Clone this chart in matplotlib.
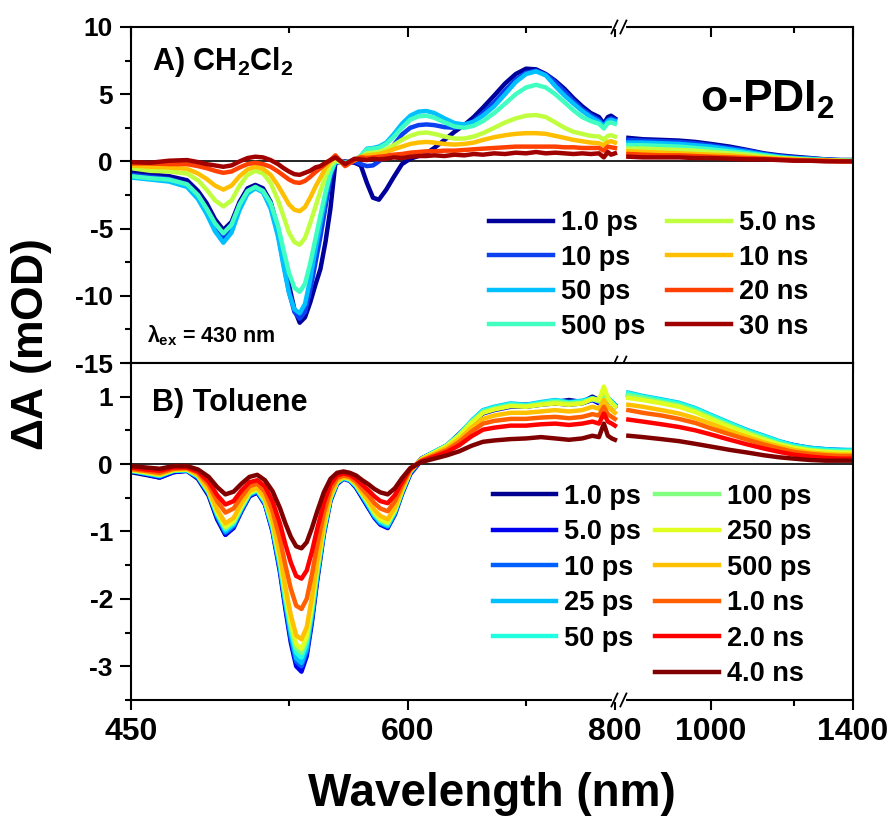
import numpy as np
import matplotlib.pyplot as plt
from matplotlib.lines import Line2D
from matplotlib.ticker import FixedLocator, MultipleLocator

plt.rcParams['font.family'] = ['Liberation Sans', 'DejaVu Sans']
plt.rcParams['font.weight'] = 'bold'
plt.rcParams['mathtext.fontset'] = 'custom'
plt.rcParams['mathtext.rm'] = 'Liberation Sans:bold'
plt.rcParams['mathtext.it'] = 'Liberation Sans:bold'
plt.rcParams['mathtext.bf'] = 'Liberation Sans:bold'
plt.rcParams['axes.unicode_minus'] = False

# ---- A) CH2Cl2 ----
wl_a = [450, 458, 466, 474, 479, 483, 487, 491, 495, 499, 503, 507, 511, 515, 519, 522, 525, 528, 531, 534,
        537, 540, 543, 546, 549, 552, 558, 564, 568, 572, 576, 580, 585, 590, 596, 602, 608, 614, 620, 628,
        636, 644, 652, 660, 670, 680, 690, 700, 710, 720, 730, 740, 750, 760, 770, 780, 786, 791, 795, 800]
wl_b = [858, 880, 910, 940, 970, 1000, 1040, 1080, 1120, 1160, 1200, 1250, 1300, 1350, 1400]

dcm_labels = ['1.0 ps', '10 ps', '50 ps', '500 ps', '5.0 ns', '10 ns', '20 ns', '30 ns']
dcm_colors = ['#00009a', '#0a40f0', '#00c0ff', '#40ffc0', '#c0ff40', '#ffbf00', '#ff4000', '#a00000']

dcm_vis = [
    [-0.8, -0.95, -1.1, -1.4, -2.2, -3.1, -4.3, -5.1, -4.5, -3.0, -2.0, -1.75, -2.0, -3.0, -5.0, -7.0, -9.2, -11.0, -12.0, -11.6,
     -10.5, -9.2, -8.0, -6.0, -3.5, -0.1, 0.0, -0.1, -0.3, -1.6, -2.7, -2.85, -2.1, -1.2, -0.2, 0.2, 0.4, 0.6, 1.0, 1.6,
     2.2, 2.7, 3.3, 4.0, 4.9, 5.8, 6.5, 6.9, 6.85, 6.5, 6.0, 5.4, 4.7, 4.1, 3.6, 3.3, 2.8, 3.3, 3.4, 3.2],
    [-1.0, -1.15, -1.3, -1.7, -2.6, -3.6, -4.9, -5.7, -5.0, -3.4, -2.3, -1.9, -2.2, -3.3, -5.4, -7.6, -9.7, -11.2, -11.7, -11.2,
     -9.6, -7.6, -5.6, -3.4, -1.2, 0.0, -0.1, 0.0, -0.2, -0.35, -0.3, 0.0, 0.5, 1.2, 2.0, 2.5, 2.7, 2.75, 2.7, 2.55,
     2.5, 2.6, 3.0, 3.6, 4.4, 5.3, 6.1, 6.6, 6.75, 6.45, 5.9, 5.2, 4.5, 3.9, 3.45, 3.1, 2.7, 3.1, 3.2, 3.1],
    [-1.2, -1.35, -1.5, -1.9, -2.8, -3.9, -5.2, -6.05, -5.3, -3.6, -2.4, -2.0, -2.3, -3.5, -5.6, -7.8, -9.8, -11.0, -11.3, -10.6,
     -8.8, -6.6, -4.6, -2.6, -0.9, 0.0, -0.1, 0.1, 0.4, 0.95, 1.0, 1.1, 1.4, 2.0, 2.8, 3.4, 3.7, 3.75, 3.6, 3.2,
     2.85, 2.75, 2.95, 3.4, 4.1, 5.0, 5.9, 6.5, 6.7, 6.4, 5.6, 4.9, 4.3, 3.75, 3.3, 2.95, 2.6, 3.0, 3.1, 3.0],
    [-1.1, -1.25, -1.35, -1.7, -2.5, -3.5, -4.6, -5.35, -4.7, -3.2, -2.2, -1.9, -2.2, -3.1, -4.8, -6.6, -8.3, -9.4, -9.7, -9.1,
     -7.6, -5.8, -4.0, -2.3, -0.8, 0.0, -0.1, 0.1, 0.4, 0.9, 0.95, 1.0, 1.3, 1.8, 2.5, 3.1, 3.35, 3.4, 3.25, 2.9,
     2.6, 2.5, 2.65, 3.0, 3.6, 4.3, 5.0, 5.5, 5.7, 5.5, 5.0, 4.4, 3.8, 3.3, 3.0, 2.8, 2.45, 2.85, 2.9, 2.8],
    [-0.5, -0.7, -0.75, -0.9, -1.4, -2.1, -2.9, -3.35, -2.9, -1.8, -1.0, -0.7, -0.9, -1.6, -2.9, -4.1, -5.3, -6.0, -6.2, -5.7,
     -4.6, -3.4, -2.2, -1.1, -0.3, 0.1, -0.2, 0.1, 0.3, 0.6, 0.65, 0.7, 0.9, 1.2, 1.6, 1.9, 2.1, 2.15, 2.05, 1.85,
     1.7, 1.7, 1.85, 2.1, 2.5, 2.9, 3.2, 3.4, 3.45, 3.3, 2.9, 2.5, 2.2, 2.05, 1.9, 1.85, 1.6, 1.9, 1.95, 1.85],
    [-0.3, -0.4, -0.45, -0.55, -0.9, -1.3, -1.8, -2.1, -1.8, -1.1, -0.6, -0.4, -0.55, -1.0, -1.8, -2.5, -3.2, -3.6, -3.7, -3.4,
     -2.7, -1.9, -1.2, -0.5, 0.0, 0.3, -0.3, 0.1, 0.35, 0.45, 0.5, 0.55, 0.7, 0.9, 1.1, 1.3, 1.4, 1.45, 1.4, 1.3,
     1.25, 1.3, 1.4, 1.6, 1.8, 1.95, 2.05, 2.1, 2.1, 2.05, 1.9, 1.75, 1.6, 1.5, 1.4, 1.35, 1.2, 1.45, 1.5, 1.4],
    [-0.15, -0.15, -0.2, -0.2, -0.35, -0.5, -0.7, -0.85, -0.75, -0.45, -0.2, -0.1, -0.2, -0.4, -0.75, -1.05, -1.35, -1.55, -1.6, -1.45,
     -1.15, -0.8, -0.5, -0.2, 0.1, 0.45, -0.35, 0.1, 0.3, 0.25, 0.3, 0.35, 0.4, 0.5, 0.55, 0.65, 0.7, 0.75, 0.75, 0.8,
     0.8, 0.85, 0.9, 0.95, 1.0, 1.05, 1.1, 1.1, 1.1, 1.1, 1.1, 1.05, 1.05, 1.0, 1.0, 1.0, 0.8, 1.1, 1.05, 1.0],
    [-0.05, -0.1, 0.05, 0.1, -0.05, -0.2, -0.3, -0.4, -0.3, 0.0, 0.25, 0.35, 0.3, 0.1, -0.2, -0.5, -0.75, -0.95, -1.0, -0.85,
     -0.7, -0.45, -0.35, -0.1, 0.1, 0.3, -0.2, 0.2, 0.15, 0.1, 0.2, 0.15, 0.2, 0.3, 0.25, 0.35, 0.4, 0.4, 0.45, 0.4,
     0.5, 0.45, 0.55, 0.5, 0.6, 0.55, 0.65, 0.6, 0.7, 0.6, 0.65, 0.6, 0.55, 0.6, 0.55, 0.6, 0.3, 0.7, 0.5, 0.6],
]
dcm_nir = [
    [1.75, 1.65, 1.6, 1.55, 1.45, 1.3, 1.1, 0.85, 0.6, 0.45, 0.35, 0.25, 0.15, 0.1, 0.1],
    [1.6, 1.55, 1.5, 1.45, 1.35, 1.2, 1.0, 0.8, 0.55, 0.4, 0.3, 0.2, 0.15, 0.1, 0.1],
    [1.4, 1.4, 1.35, 1.3, 1.2, 1.1, 0.9, 0.7, 0.5, 0.35, 0.25, 0.2, 0.1, 0.1, 0.05],
    [1.2, 1.2, 1.15, 1.1, 1.0, 0.9, 0.75, 0.6, 0.45, 0.3, 0.2, 0.15, 0.1, 0.05, 0.05],
    [0.95, 0.95, 0.9, 0.85, 0.8, 0.7, 0.6, 0.5, 0.35, 0.25, 0.2, 0.1, 0.1, 0.05, 0.05],
    [0.75, 0.7, 0.65, 0.6, 0.55, 0.5, 0.45, 0.35, 0.25, 0.2, 0.15, 0.1, 0.05, 0.05, 0.0],
    [0.55, 0.5, 0.45, 0.45, 0.4, 0.35, 0.3, 0.25, 0.2, 0.15, 0.1, 0.05, 0.05, 0.0, 0.0],
    [0.35, 0.3, 0.3, 0.3, 0.25, 0.25, 0.2, 0.15, 0.15, 0.1, 0.05, 0.05, 0.0, 0.0, 0.0],
]

# ---- B) Toluene ----
wl_c = [450, 456, 462, 468, 474, 479, 484, 488, 492, 496, 500, 504, 508, 512, 516, 520, 523, 526, 529, 532,
        535, 538, 541, 545, 549, 553, 557, 561, 565, 569, 573, 577, 581, 586, 591, 596, 602, 610, 620, 630,
        640, 650, 660, 670, 685, 700, 715, 730, 745, 760, 772, 780, 786, 791, 796, 800]
wl_d = [858, 880, 910, 940, 970, 1000, 1040, 1080, 1120, 1160, 1200, 1250, 1300, 1350, 1400]

tol_labels = ['1.0 ps', '5.0 ps', '10 ps', '25 ps', '50 ps', '100 ps', '250 ps', '500 ps', '1.0 ns', '2.0 ns', '4.0 ns']
tol_colors = ['#000090', '#0000f0', '#0060ff', '#00c0ff', '#20ffe0', '#80ff80', '#e0ff20', '#ffc000',
              '#ff6000', '#ff0000', '#800000']

tol_vis = [
    [-0.12, -0.16, -0.2, -0.12, -0.1, -0.22, -0.47, -0.82, -1.05, -0.93, -0.68, -0.47, -0.42, -0.58, -0.98, -1.55, -2.1, -2.6, -2.95, -3.0,
     -2.8, -2.3, -1.7, -1.0, -0.52, -0.28, -0.2, -0.24, -0.35, -0.5, -0.65, -0.78, -0.88, -0.93, -0.72, -0.42, -0.12, 0.08, 0.18, 0.28,
     0.45, 0.62, 0.78, 0.82, 0.88, 0.88, 0.9, 0.92, 0.95, 0.92, 1.0, 0.95, 1.05, 0.95, 0.92, 0.88],
    [-0.1, -0.15, -0.2, -0.12, -0.1, -0.2, -0.45, -0.8, -1.05, -0.95, -0.7, -0.48, -0.42, -0.6, -1.0, -1.6, -2.15, -2.65, -3.0, -3.08,
     -2.85, -2.35, -1.75, -1.05, -0.55, -0.3, -0.22, -0.25, -0.35, -0.5, -0.65, -0.8, -0.9, -0.95, -0.75, -0.45, -0.15, 0.05, 0.15, 0.25,
     0.4, 0.6, 0.75, 0.8, 0.85, 0.85, 0.88, 0.9, 0.88, 0.9, 0.95, 0.9, 1.0, 0.95, 0.9, 0.85],
    [-0.1, -0.14, -0.18, -0.1, -0.1, -0.2, -0.44, -0.78, -1.02, -0.92, -0.68, -0.46, -0.4, -0.58, -0.97, -1.55, -2.08, -2.58, -2.93, -3.0,
     -2.78, -2.28, -1.7, -1.02, -0.53, -0.28, -0.21, -0.24, -0.34, -0.48, -0.63, -0.78, -0.88, -0.93, -0.73, -0.43, -0.13, 0.06, 0.16, 0.27,
     0.42, 0.62, 0.78, 0.83, 0.88, 0.87, 0.9, 0.93, 0.9, 0.92, 0.97, 0.93, 1.02, 0.97, 0.92, 0.87],
    [-0.1, -0.14, -0.18, -0.1, -0.09, -0.19, -0.43, -0.76, -1.0, -0.9, -0.66, -0.45, -0.4, -0.57, -0.95, -1.52, -2.05, -2.53, -2.88, -2.95,
     -2.73, -2.24, -1.67, -1.0, -0.52, -0.28, -0.21, -0.24, -0.33, -0.47, -0.62, -0.77, -0.87, -0.92, -0.72, -0.42, -0.12, 0.07, 0.18, 0.28,
     0.44, 0.64, 0.8, 0.85, 0.9, 0.88, 0.92, 0.95, 0.92, 0.94, 0.98, 0.95, 1.03, 0.98, 0.93, 0.88],
    [-0.1, -0.13, -0.17, -0.1, -0.09, -0.18, -0.42, -0.74, -0.97, -0.88, -0.65, -0.44, -0.39, -0.56, -0.93, -1.48, -2.0, -2.46, -2.8, -2.87,
     -2.66, -2.18, -1.62, -0.97, -0.5, -0.27, -0.2, -0.23, -0.32, -0.46, -0.6, -0.75, -0.85, -0.9, -0.7, -0.41, -0.11, 0.07, 0.18, 0.28,
     0.44, 0.63, 0.79, 0.84, 0.89, 0.87, 0.91, 0.94, 0.91, 0.93, 0.97, 0.94, 1.02, 0.97, 0.92, 0.87],
    [-0.09, -0.13, -0.16, -0.09, -0.08, -0.17, -0.41, -0.72, -0.95, -0.86, -0.63, -0.43, -0.38, -0.54, -0.9, -1.44, -1.95, -2.4, -2.73, -2.8,
     -2.6, -2.13, -1.58, -0.95, -0.49, -0.26, -0.2, -0.22, -0.31, -0.45, -0.58, -0.73, -0.83, -0.88, -0.69, -0.4, -0.11, 0.07, 0.17, 0.27,
     0.43, 0.62, 0.77, 0.82, 0.87, 0.86, 0.89, 0.92, 0.9, 0.91, 0.96, 0.93, 1.05, 0.96, 0.9, 0.86],
    [-0.09, -0.12, -0.16, -0.09, -0.08, -0.17, -0.4, -0.71, -0.93, -0.84, -0.62, -0.42, -0.37, -0.53, -0.88, -1.41, -1.91, -2.35, -2.67, -2.74,
     -2.55, -2.09, -1.55, -0.93, -0.48, -0.26, -0.19, -0.22, -0.3, -0.44, -0.57, -0.72, -0.82, -0.87, -0.68, -0.39, -0.1, 0.07, 0.17, 0.27,
     0.42, 0.61, 0.76, 0.81, 0.86, 0.85, 0.88, 0.9, 0.88, 0.9, 0.97, 0.95, 1.15, 0.98, 0.9, 0.85],
    [-0.08, -0.11, -0.15, -0.08, -0.07, -0.16, -0.38, -0.67, -0.88, -0.8, -0.58, -0.4, -0.35, -0.5, -0.83, -1.34, -1.82, -2.24, -2.54, -2.6,
     -2.42, -1.98, -1.47, -0.88, -0.46, -0.25, -0.19, -0.21, -0.29, -0.42, -0.54, -0.68, -0.77, -0.82, -0.64, -0.37, -0.1, 0.06, 0.15, 0.24,
     0.37, 0.54, 0.67, 0.72, 0.76, 0.76, 0.78, 0.8, 0.78, 0.8, 0.85, 0.82, 0.95, 0.85, 0.8, 0.76],
    [-0.07, -0.1, -0.13, -0.07, -0.06, -0.13, -0.31, -0.55, -0.72, -0.66, -0.48, -0.33, -0.29, -0.41, -0.69, -1.11, -1.5, -1.85, -2.1, -2.15,
     -2.0, -1.64, -1.22, -0.73, -0.38, -0.21, -0.17, -0.19, -0.26, -0.37, -0.47, -0.58, -0.66, -0.7, -0.55, -0.32, -0.08, 0.05, 0.13, 0.21,
     0.33, 0.48, 0.6, 0.64, 0.67, 0.67, 0.69, 0.7, 0.68, 0.7, 0.74, 0.72, 0.85, 0.74, 0.7, 0.67],
    [-0.05, -0.08, -0.1, -0.05, -0.05, -0.11, -0.26, -0.46, -0.6, -0.55, -0.39, -0.27, -0.24, -0.33, -0.55, -0.88, -1.19, -1.46, -1.66, -1.7,
     -1.58, -1.3, -0.97, -0.58, -0.3, -0.17, -0.14, -0.16, -0.22, -0.31, -0.39, -0.48, -0.55, -0.58, -0.46, -0.27, -0.07, 0.04, 0.11, 0.18,
     0.28, 0.41, 0.51, 0.54, 0.57, 0.57, 0.59, 0.6, 0.58, 0.6, 0.63, 0.6, 0.75, 0.63, 0.6, 0.57],
    [-0.03, -0.05, -0.07, -0.03, -0.03, -0.08, -0.19, -0.34, -0.45, -0.41, -0.29, -0.19, -0.16, -0.24, -0.4, -0.65, -0.88, -1.08, -1.22, -1.25,
     -1.16, -0.95, -0.71, -0.42, -0.22, -0.13, -0.11, -0.13, -0.17, -0.24, -0.3, -0.37, -0.42, -0.45, -0.36, -0.21, -0.06, 0.03, 0.08, 0.13,
     0.19, 0.27, 0.33, 0.35, 0.37, 0.38, 0.4, 0.38, 0.36, 0.38, 0.42, 0.4, 0.6, 0.42, 0.38, 0.36],
]
tol_nir = [
    [1.02, 0.98, 0.93, 0.88, 0.8, 0.7, 0.58, 0.48, 0.4, 0.32, 0.27, 0.23, 0.21, 0.2, 0.2],
    [1.03, 0.99, 0.94, 0.89, 0.81, 0.71, 0.59, 0.49, 0.41, 0.33, 0.28, 0.23, 0.21, 0.2, 0.2],
    [1.04, 1.0, 0.95, 0.9, 0.82, 0.72, 0.6, 0.5, 0.41, 0.33, 0.28, 0.24, 0.22, 0.21, 0.2],
    [1.06, 1.01, 0.96, 0.91, 0.83, 0.73, 0.61, 0.5, 0.42, 0.34, 0.28, 0.24, 0.22, 0.21, 0.21],
    [1.05, 1.0, 0.95, 0.9, 0.82, 0.72, 0.6, 0.49, 0.41, 0.33, 0.27, 0.23, 0.21, 0.2, 0.2],
    [1.02, 0.98, 0.92, 0.87, 0.79, 0.69, 0.57, 0.47, 0.38, 0.3, 0.25, 0.21, 0.19, 0.18, 0.18],
    [0.98, 0.95, 0.9, 0.85, 0.77, 0.67, 0.55, 0.45, 0.36, 0.29, 0.24, 0.2, 0.18, 0.17, 0.17],
    [0.88, 0.85, 0.8, 0.75, 0.68, 0.6, 0.49, 0.4, 0.32, 0.26, 0.21, 0.17, 0.15, 0.14, 0.14],
    [0.8, 0.76, 0.72, 0.67, 0.61, 0.53, 0.44, 0.36, 0.29, 0.23, 0.18, 0.15, 0.13, 0.12, 0.12],
    [0.66, 0.63, 0.59, 0.55, 0.5, 0.44, 0.36, 0.29, 0.23, 0.18, 0.14, 0.11, 0.09, 0.08, 0.08],
    [0.42, 0.4, 0.37, 0.34, 0.3, 0.26, 0.21, 0.17, 0.13, 0.1, 0.08, 0.06, 0.05, 0.05, 0.05],
]

# x axis: linear in wavenumber, with 800-850 nm squeezed into a short break
W0, W1, W2 = 1e7 / 450, 1e7 / 800, 1e7 / 850
GAP = 160.0


def fwd(x):
    x = np.asarray(x, float)
    with np.errstate(divide='ignore', invalid='ignore'):
        w = 1e7 / x
    d = np.clip(W1 - w, 0, W1 - W2)
    return W0 - w - d + GAP * d / (W1 - W2)


def inv(s):
    s = np.asarray(s, float)
    s1 = W0 - W1
    w = np.where(s <= s1, W0 - s,
                 np.where(s <= s1 + GAP, W1 - (s - s1) * (W1 - W2) / GAP,
                          W0 - s - (W1 - W2) + GAP))
    with np.errstate(divide='ignore', invalid='ignore'):
        return 1e7 / w


brk = float(0.5 * (fwd(800) + fwd(850)) / fwd(1400))


def style_x(ax, labels):
    ax.set_xscale('function', functions=(fwd, inv))
    ax.set_xlim(450, 1400)
    ax.xaxis.set_major_locator(FixedLocator([450, 600, 800, 1000, 1400]))
    ax.xaxis.set_minor_locator(FixedLocator([525, 700, 1200]))
    ax.xaxis.set_major_formatter(plt.FuncFormatter(lambda v, p: '%d' % round(v)))
    ax.tick_params(axis='x', which='major', length=7, width=1.5, labelsize=23, pad=5)
    ax.tick_params(axis='x', which='minor', length=4, width=1.5)
    if not labels:
        ax.tick_params(axis='x', which='both', labelbottom=False)
    for t in ax.xaxis.get_major_ticks():
        if abs(t.get_loc() - 800) < 1:
            t.tick1line.set_visible(False)
            t.tick2line.set_visible(False)


def mark_break(ax, y, h_px):
    dy = 6.5 / h_px
    ax.plot([brk - 0.0065, brk + 0.0065], [y, y], color='white', lw=3,
            transform=ax.transAxes, clip_on=False, zorder=6)
    for off in (-0.0062, 0.0062):
        ax.plot([brk + off - 0.0042, brk + off + 0.0042], [y - dy, y + dy], color='k', lw=1.3,
                transform=ax.transAxes, clip_on=False, zorder=7)


fig = plt.figure(figsize=(8.91, 8.18), dpi=100)
ax1 = fig.add_axes([0.1470, 0.5562, 0.8103, 0.4108])
ax2 = fig.add_axes([0.1470, 0.1443, 0.8103, 0.4120])

for ax in (ax1, ax2):
    for sp in ax.spines.values():
        sp.set_linewidth(1.5)
    ax.axhline(0, color='k', lw=1.2, zorder=1.5)
    ax.tick_params(axis='y', which='major', length=8, width=1.5, labelsize=19, pad=5)
    ax.tick_params(axis='y', which='minor', length=4.5, width=1.5)

for vis, nir, col, lab in zip(dcm_vis, dcm_nir, dcm_colors, dcm_labels):
    ax1.plot(wl_a, vis, color=col, lw=3.2, label=lab, solid_joinstyle='round')
    ax1.plot(wl_b, nir, color=col, lw=3.2, solid_joinstyle='round')

for vis, nir, col, lab in zip(tol_vis, tol_nir, tol_colors, tol_labels):
    ax2.plot(wl_c, vis, color=col, lw=3.2, label=lab, solid_joinstyle='round')
    ax2.plot(wl_d, nir, color=col, lw=3.2, solid_joinstyle='round')

style_x(ax1, False)
style_x(ax2, True)
ax1.tick_params(axis='x', which='both', top=True)
for t in ax1.xaxis.get_major_ticks() + ax1.xaxis.get_minor_ticks():
    t.tick2line.set_marker(3)  # top ticks point down into the panel

ax1.set_ylim(-15, 10)
ax1.yaxis.set_major_locator(MultipleLocator(5))
ax1.yaxis.set_minor_locator(MultipleLocator(2.5))
ax2.set_ylim(-3.5, 1.5)
ax2.yaxis.set_major_locator(MultipleLocator(1))
ax2.yaxis.set_minor_locator(MultipleLocator(0.5))

mark_break(ax1, 1, 336)
mark_break(ax1, 0, 336)
mark_break(ax2, 0, 337)

ax1.text(0.029, 0.872, r'A) CH$_2$Cl$_2$', transform=ax1.transAxes, fontsize=22, va='baseline')
ax1.text(0.975, 0.747, r'o-PDI$_2$', transform=ax1.transAxes, fontsize=32, ha='right', va='baseline')
ax1.text(0.022, 0.0625, r'$\lambda_{ex}$ = 430 nm', transform=ax1.transAxes, fontsize=15.5, va='baseline')
ax2.text(0.029, 0.858, 'B) Toluene', transform=ax2.transAxes, fontsize=22, va='baseline')

ax1.legend(ncol=2, frameon=False, fontsize=19.5, handlelength=2.35, handletextpad=0.3,
           columnspacing=0.8, labelspacing=0.31, loc='upper left', borderpad=0, borderaxespad=0,
           bbox_to_anchor=(0.496, 0.454))

h, l = ax2.get_legend_handles_labels()
h.insert(5, Line2D([], [], color='none'))
l.insert(5, ' ')
ax2.legend(h, l, ncol=2, frameon=False, fontsize=19.5, handlelength=2.35, handletextpad=0.3,
           columnspacing=0.5, labelspacing=0.35, loc='upper left', borderpad=0, borderaxespad=0,
           bbox_to_anchor=(0.501, 0.642))

fig.text(0.035, 0.579, r'$\Delta$A (mOD)', rotation=90, fontsize=32, ha='center', va='center')
fig.text(0.552, 0.029, 'Wavelength (nm)', fontsize=33, ha='center', va='center')

fig.savefig('out.png', dpi=100)
